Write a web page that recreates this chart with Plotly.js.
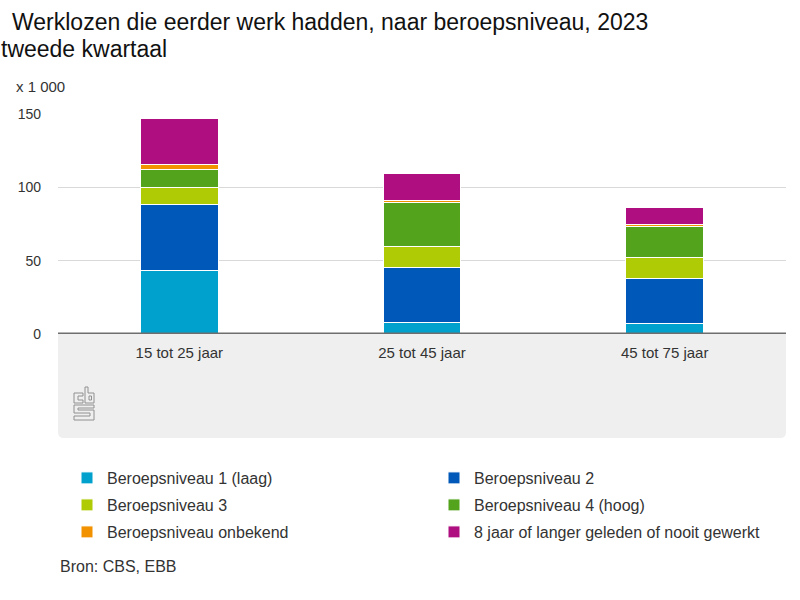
<!DOCTYPE html>
<html>
<head>
<meta charset="utf-8">
<script src="https://cdn.plot.ly/plotly-3.0.1.min.js"></script>
<style>
  html, body { margin: 0; padding: 0; background: #ffffff; }
  #chart { width: 800px; height: 600px; }
</style>
</head>
<body>
<div id="chart"></div>
<script>
// Categories (age groups)
const categories = ["15 tot 25 jaar", "25 tot 45 jaar", "45 tot 75 jaar"];

// Series names and values (x 1 000)
const seriesNames = [
  "Beroepsniveau 1 (laag)",
  "Beroepsniveau 2",
  "Beroepsniveau 3",
  "Beroepsniveau 4 (hoog)",
  "Beroepsniveau onbekend",
  "8 jaar of langer geleden of nooit gewerkt"
];
const niveau1   = [43, 8, 7.5];
const niveau2   = [45, 37.5, 30.5];
const niveau3   = [12, 14.5, 14.5];
const niveau4   = [12.5, 30, 20.5];
const onbekend  = [3, 1, 2];
const achtJaar  = [31.5, 18.5, 11.5];

const seriesValues = [niveau1, niveau2, niveau3, niveau4, onbekend, achtJaar];
const seriesColors = ["#00a1cd", "#0058b8", "#afcb05", "#53a31d", "#f39200", "#af0e80"];

const yTickVals = [0, 50, 100, 150];

const titleLine1 = "Werklozen die eerder werk hadden, naar beroepsniveau, 2023";
const titleLine2 = "tweede kwartaal";

const FONT = "Liberation Sans, Arial, sans-serif";

// One Plotly legend per entry, laid out in two columns
const legendIds = ["legend", "legend2", "legend3", "legend4", "legend5", "legend6"];

const traces = seriesNames.map((name, i) => ({
  type: "bar",
  name: name,
  x: categories,
  y: seriesValues[i],
  legend: legendIds[i],
  marker: { color: seriesColors[i], line: { color: "#ffffff", width: 1 } },
  hoverinfo: "x+y+name"
}));

// Plot area geometry (pixels) used for layout decorations
const L = 58, R = 14, T = 114, B = 266;
const plotW = 800 - L - R, plotH = 600 - T - B;
const px2paperX = p => (p - L) / plotW;
const px2paperY = p => (600 - B - p) / plotH;

const greyBottom = px2paperY(438);
const rx = 6 / plotW, ry = 6 / plotH;

function entryLegend(i) {
  const col = i % 2, row = Math.floor(i / 2);
  return {
    orientation: "h",
    x: px2paperX(col === 0 ? 67 : 434), xanchor: "left",
    y: px2paperY(478 + row * 27), yanchor: "middle",
    font: { family: FONT, size: 16, color: "#333333" },
    bgcolor: "rgba(0,0,0,0)",
    itemclick: false,
    itemdoubleclick: false
  };
}

const layout = {
  width: 800,
  height: 600,
  margin: { l: L, r: R, t: T, b: B, pad: 0 },
  paper_bgcolor: "#ffffff",
  plot_bgcolor: "#ffffff",
  font: { family: FONT, color: "#333333", size: 14 },
  barmode: "stack",
  bargap: 0.68,
  title: {
    text: titleLine1,
    x: 12 / 800, xref: "container", xanchor: "left",
    y: 1 - 22 / 600, yref: "container", yanchor: "middle",
    font: { family: FONT, size: 23, color: "#111111" }
  },
  xaxis: {
    type: "category",
    showgrid: false,
    showline: false,
    zeroline: false,
    ticks: "",
    ticklabelstandoff: 8,
    tickfont: { family: FONT, size: 15, color: "#333333" },
    fixedrange: true
  },
  yaxis: {
    range: [0, 150],
    tickvals: yTickVals,
    ticktext: yTickVals.map(String),
    showgrid: true,
    gridcolor: "#d9d9d9",
    gridwidth: 1,
    zeroline: false,
    showline: false,
    ticks: "",
    ticklabelstandoff: 16,
    tickfont: { family: FONT, size: 14, color: "#333333" },
    fixedrange: true
  },
  showlegend: true,
  shapes: [
    {
      type: "path",
      xref: "paper", yref: "paper",
      path: `M 0 0 L 1 0 L 1 ${greyBottom + ry} Q 1 ${greyBottom} ${1 - rx} ${greyBottom} L ${rx} ${greyBottom} Q 0 ${greyBottom} 0 ${greyBottom + ry} Z`,
      fillcolor: "#efefef",
      line: { width: 0 },
      layer: "below"
    },
    {
      type: "line",
      xref: "paper", yref: "y",
      x0: 0, x1: 1, y0: 0, y1: 0,
      line: { color: "#6e6e6e", width: 3 },
      layer: "above"
    },
    {
      type: "path",
      xref: "paper", yref: "paper",
      xsizemode: "pixel", ysizemode: "pixel",
      xanchor: px2paperX(74), yanchor: px2paperY(387),
      path: "M9,-6 H0 V-16 H9 V-13 H4 V-9 H9 Z " +
            "M11,0 V-16 H20 V-6 H14 V0 Z M15,-9 H17.5 V-13 H15 Z " +
            "M20,-18 H0 V-26 H16 V-29 H0 V-33 H20 V-23 H4 V-21 H20 Z",
      line: { color: "#909090", width: 1 },
      fillcolor: "rgba(0,0,0,0)",
      layer: "above"
    }
  ],
  annotations: [
    {
      text: titleLine2,
      xref: "paper", yref: "paper",
      x: px2paperX(-1), xanchor: "left",
      y: px2paperY(49), yanchor: "middle",
      showarrow: false,
      font: { family: FONT, size: 23, color: "#111111" }
    },
    {
      text: "x 1 000",
      xref: "paper", yref: "paper",
      x: px2paperX(14), xanchor: "left",
      y: px2paperY(86), yanchor: "middle",
      showarrow: false,
      font: { family: FONT, size: 15, color: "#333333" }
    },
    {
      text: "Bron: CBS, EBB",
      xref: "paper", yref: "paper",
      x: px2paperX(58), xanchor: "left",
      y: px2paperY(566), yanchor: "middle",
      showarrow: false,
      font: { family: FONT, size: 16, color: "#333333" }
    }
  ]
};

legendIds.forEach((id, i) => { layout[id] = entryLegend(i); });

Plotly.newPlot("chart", traces, layout, { displayModeBar: false });
</script>
</body>
</html>
